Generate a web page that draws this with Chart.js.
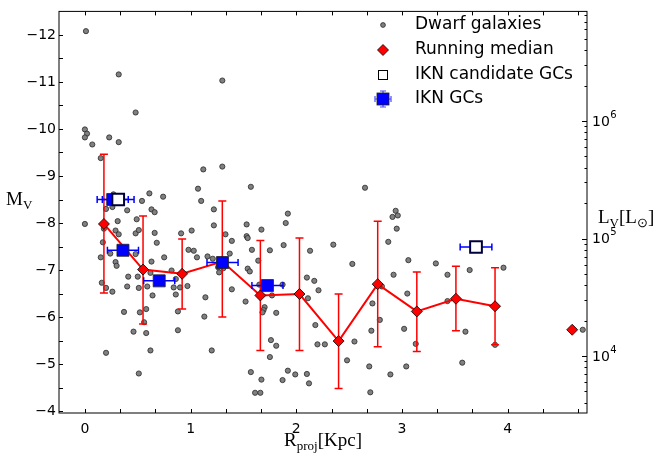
<!DOCTYPE html>
<html>
<head>
<meta charset="utf-8">
<script src="https://cdn.jsdelivr.net/npm/chart.js"></script>
<style>html,body{margin:0;padding:0;background:#fff}canvas{display:block}</style>
</head>
<body>
<canvas id="c" width="655" height="463"></canvas>
<script>
/* dwarf galaxies: projected radius (kpc) and absolute magnitude */
const dwarfR=[0.01,0.32,1.30,0.48,0.00,0.02,0.00,0.23,0.32,0.07,0.15,1.12,1.30,1.07,1.57,0.61,0.74,0.54,1.10,0.27,0.20,0.26,0.40,0.63,0.66,1.22,1.92,2.65,2.94,
  0.00,0.18,0.31,0.49,0.29,0.32,0.48,0.51,0.66,0.68,0.91,1.01,1.22,1.33,1.39,1.53,1.53,1.54,1.67,1.90,1.88,1.58,1.75,2.13,2.35,
  0.17,0.15,0.24,0.29,0.30,0.48,0.63,0.75,0.98,1.03,1.06,1.16,1.21,1.37,1.26,1.31,1.27,1.54,1.56,1.64,0.82,0.41,0.50,0.62,0.86,
  0.16,0.20,0.26,0.40,0.51,0.59,0.64,0.84,0.90,0.97,0.86,1.14,1.39,1.52,1.65,1.77,1.87,2.10,2.17,2.21,2.11,2.53,
  0.37,0.52,0.58,0.88,1.13,1.70,1.69,1.68,1.81,0.56,0.46,0.58,0.88,2.18,0.62,0.20,1.20,1.76,1.81,1.75,2.20,2.27,2.55,2.48,
  0.51,1.57,1.67,1.61,1.66,1.92,1.87,1.99,2.10,2.12,
  2.91,2.96,2.95,2.87,3.06,3.32,3.43,3.64,3.96,2.92,2.81,3.05,2.72,3.43,2.79,3.02,2.71,3.60,3.13,3.88,2.69,3.04,3.57,2.89,2.70,4.71];
const dwarfMV=[-12.08,-11.16,-11.03,-10.35,-9.99,-9.90,-9.82,-9.82,-9.72,-9.67,-9.38,-9.14,-9.20,-8.73,-8.77,-8.63,-8.56,-8.47,-8.47,-8.61,-8.30,-8.34,-8.27,-8.29,-8.23,-8.29,-8.20,-8.75,-8.26,
  -7.98,-7.88,-8.04,-8.08,-7.84,-7.76,-7.78,-7.85,-7.79,-7.58,-7.78,-7.84,-7.95,-7.76,-7.62,-7.97,-7.72,-7.68,-7.86,-8.00,-7.53,-7.43,-7.42,-7.41,-7.54,
  -7.59,-7.27,-7.35,-7.17,-7.09,-7.34,-7.18,-7.27,-7.43,-7.41,-7.27,-7.29,-7.24,-7.35,-7.06,-7.04,-6.95,-7.03,-6.97,-7.20,-6.99,-6.86,-6.86,-6.94,-6.81,
  -6.73,-6.62,-6.54,-6.65,-6.62,-6.65,-6.46,-6.63,-6.63,-6.66,-6.48,-6.42,-6.59,-6.33,-6.69,-6.46,-6.69,-6.84,-6.77,-6.57,-6.40,-7.13,
  -6.11,-6.10,-6.17,-6.12,-6.01,-6.21,-6.15,-6.10,-6.09,-5.89,-5.69,-5.66,-5.72,-5.83,-5.29,-5.24,-5.29,-5.51,-5.39,-5.15,-5.42,-5.42,-5.48,-5.08,
  -4.80,-4.83,-4.67,-4.39,-4.39,-4.86,-4.66,-4.78,-4.79,-4.59,
  -8.13,-8.16,-7.88,-7.60,-7.21,-7.14,-6.90,-7.00,-7.05,-6.90,-6.65,-6.50,-6.29,-6.34,-5.94,-5.75,-5.71,-5.69,-5.43,-5.41,-4.95,-4.95,-5.03,-4.78,-4.40,-5.73];

/* running median with its spread */
const medR=[0.18,0.55,0.92,1.30,1.66,2.03,2.40,2.77,3.14,3.51,3.88];
const medMV=[-7.98,-7.01,-6.92,-7.18,-6.46,-6.49,-5.49,-6.70,-6.12,-6.39,-6.23];
const medTop=[-9.46,-8.15,-7.66,-8.47,-7.63,-7.68,-6.49,-8.04,-6.96,-7.08,-7.05];
const medBot=[-6.51,-5.85,-6.17,-6.00,-5.29,-5.29,-4.48,-5.37,-5.27,-5.71,-5.41];
const outR=[4.61];
const outMV=[-5.73];

/* IKN globular clusters */
const gcR=[0.263,0.36,0.703,1.302,1.727];
const gcMV=[-8.50,-7.42,-6.77,-7.16,-6.67];
const gcErr=[0.147,0.147,0.147,0.147,0.147];
const candR=[0.315,3.70];
const candMV=[-8.50,-7.49];
const candErr=[0.15,0.15];

const xTicks=[0,1,2,3,4];
const lumMajor=[1e4,1e5,1e6];
const lumExp=['4','5','6'];
const MSUN=4.83;
const lumToMag=L=>MSUN-2.5*Math.log10(L);

const pts=(xs,ys)=>xs.map((v,i)=>({x:v,y:ys[i]}));

Chart.defaults.font.family="'DejaVu Sans'";
Chart.defaults.font.size=14;
Chart.defaults.color='#000';

/* error bars, drawn just under their own dataset */
const errBars={
  id:'errBars',
  beforeDatasetDraw(chart,args){
    const ctx=chart.ctx,xs=chart.scales.x,ys=chart.scales.y;
    const lbl=chart.data.datasets[args.index].label;
    ctx.save();
    ctx.lineWidth=1.5;
    if(lbl==='Running median'){
      ctx.strokeStyle='#ff0000';
      medR.forEach((r,i)=>{
        const px=xs.getPixelForValue(r),a=ys.getPixelForValue(medTop[i]),b=ys.getPixelForValue(medBot[i]);
        ctx.beginPath();
        ctx.moveTo(px,a);ctx.lineTo(px,b);
        ctx.moveTo(px-4,a);ctx.lineTo(px+4,a);
        ctx.moveTo(px-4,b);ctx.lineTo(px+4,b);
        ctx.stroke();
      });
    }
    const xe=(R,M,E)=>{
      ctx.strokeStyle='#0000ff';
      R.forEach((r,i)=>{
        const py=ys.getPixelForValue(M[i]),a=xs.getPixelForValue(r-E[i]),b=xs.getPixelForValue(r+E[i]);
        ctx.beginPath();
        ctx.moveTo(a,py);ctx.lineTo(b,py);
        ctx.moveTo(a,py-3.5);ctx.lineTo(a,py+3.5);
        ctx.moveTo(b,py-3.5);ctx.lineTo(b,py+3.5);
        ctx.stroke();
      });
    };
    if(lbl==='IKN GCs')xe(gcR,gcMV,gcErr);
    if(lbl==='IKN candidate GCs')xe(candR,candMV,candErr);
    ctx.restore();
  }
};

/* frame, inward ticks, luminosity labels, axis titles and legend */
const decor={
  id:'decor',
  afterDraw(chart){
    const ctx=chart.ctx,a=chart.chartArea,xs=chart.scales.x,ys=chart.scales.y;
    ctx.save();
    ctx.strokeStyle='#000';ctx.lineWidth=1;
    ctx.strokeRect(a.left,a.top,a.right-a.left,a.bottom-a.top);
    ctx.beginPath();
    for(let k=0;k<=14;k++){
      const px=Math.round(xs.getPixelForValue(k/3))+0.5;
      ctx.moveTo(px,a.bottom);ctx.lineTo(px,a.bottom-4);
      ctx.moveTo(px,a.top);ctx.lineTo(px,a.top+4);
    }
    for(let m=-12;m<=-4;m+=0.5){
      const py=Math.round(ys.getPixelForValue(m))+0.5;
      ctx.moveTo(a.left,py);ctx.lineTo(a.left+4,py);
    }
    for(let n=3;n<=6;n++){
      for(let k=1;k<=9;k++){
        const mag=lumToMag(k*Math.pow(10,n));
        if(mag>ys.max||mag<ys.min)continue;
        const py=Math.round(ys.getPixelForValue(mag))+0.5;
        const len=k===1?5:2.5;
        ctx.moveTo(a.right,py);ctx.lineTo(a.right-len,py);
      }
    }
    ctx.stroke();

    /* right axis labels 10^n */
    ctx.fillStyle='#000';ctx.textAlign='left';ctx.textBaseline='middle';
    lumMajor.forEach((L,i)=>{
      const py=ys.getPixelForValue(lumToMag(L));
      ctx.font="14px 'DejaVu Sans'";
      ctx.fillText('10',a.right+5,py+1);
      const w=ctx.measureText('10').width;
      ctx.font="10px 'DejaVu Sans'";
      ctx.fillText(lumExp[i],a.right+5+w+0.5,py-6);
    });

    /* axis titles */
    const main="19px 'Liberation Serif'",sub="13px 'Liberation Serif'";
    const parts=(list)=>{
      let w=0;
      list.forEach(([t,s])=>{ctx.font=s?sub:main;w+=ctx.measureText(t).width;});
      return w;
    };
    const put=(list,x,y)=>{
      ctx.fillStyle='#000';ctx.textBaseline='alphabetic';ctx.textAlign='left';
      list.forEach(([t,s])=>{ctx.font=s?sub:main;ctx.fillText(t,x,y+(s?4:0));x+=ctx.measureText(t).width;});
    };
    put([['M',0],['V',1]],6,205);
    const xl=[['R',0],['proj',1],['[Kpc]',0]];
    put(xl,(a.left+a.right)/2-parts(xl)/2,446);
    put([['L',0],['V',1],['[L',0],['\u2299',1],[']',0]],598,223);

    /* legend */
    const rows=['Dwarf galaxies','Running median','IKN candidate GCs','IKN GCs'];
    const lx=383,ly=[25,50,75,99];
    ctx.font="17px 'DejaVu Sans'";ctx.textBaseline='middle';ctx.fillStyle='#000';
    rows.forEach((t,i)=>ctx.fillText(t,415,ly[i]));
    ctx.lineWidth=0.8;
    ctx.beginPath();ctx.arc(lx,ly[0],2.4,0,Math.PI*2);
    ctx.fillStyle='#808080';ctx.fill();ctx.strokeStyle='#2a2a2a';ctx.stroke();
    ctx.beginPath();ctx.moveTo(lx-5.5,ly[1]);ctx.lineTo(lx,ly[1]-5.5);ctx.lineTo(lx+5.5,ly[1]);ctx.lineTo(lx,ly[1]+5.5);ctx.closePath();
    ctx.fillStyle='#ff0000';ctx.fill();ctx.strokeStyle='#000';ctx.stroke();
    ctx.lineWidth=1;ctx.strokeStyle='#000';ctx.fillStyle='#fff';
    ctx.fillRect(lx-4.5,ly[2]-4.5,9,9);ctx.strokeRect(lx-4.5,ly[2]-4.5,9,9);
    ctx.strokeStyle='#4a4aff';ctx.lineWidth=1.2;
    ctx.beginPath();
    ctx.moveTo(lx-8,ly[3]);ctx.lineTo(lx+8,ly[3]);ctx.moveTo(lx-8,ly[3]-3);ctx.lineTo(lx-8,ly[3]+3);ctx.moveTo(lx+8,ly[3]-3);ctx.lineTo(lx+8,ly[3]+3);
    ctx.moveTo(lx,ly[3]-8);ctx.lineTo(lx,ly[3]+8);ctx.moveTo(lx-3,ly[3]-8);ctx.lineTo(lx+3,ly[3]-8);ctx.moveTo(lx-3,ly[3]+8);ctx.lineTo(lx+3,ly[3]+8);
    ctx.stroke();
    ctx.fillStyle='#0000ff';ctx.fillRect(lx-6,ly[3]-6,12,12);
    ctx.strokeStyle='#222';ctx.lineWidth=0.8;ctx.strokeRect(lx-6,ly[3]-6,12,12);
    ctx.restore();
  }
};

const magRange={min:-12.5,max:-3.96};

new Chart(document.getElementById('c'),{
  type:'scatter',
  data:{datasets:[
    {label:'Dwarf galaxies',data:pts(dwarfR,dwarfMV),order:5,
      pointRadius:2.6,pointBackgroundColor:'#808080',pointBorderColor:'#2a2a2a',pointBorderWidth:0.8},
    {label:'Running median',data:pts(medR,medMV),order:4,showLine:true,
      borderColor:'#ff0000',borderWidth:2,pointStyle:'rectRot',pointRadius:5.5,
      pointBackgroundColor:'#ff0000',pointBorderColor:'#000',pointBorderWidth:0.8},
    {label:'IKN candidate GCs',data:pts(candR,candMV),order:1,
      pointStyle:'rect',pointRadius:8.3,pointBackgroundColor:'#fff',pointBorderColor:'#00003c',pointBorderWidth:2},
    {label:'IKN GCs',data:pts(gcR,gcMV),order:2,
      pointStyle:'rect',pointRadius:8.5,pointBackgroundColor:'#0000ff',pointBorderColor:'#222',pointBorderWidth:0.8},
    {label:'outer median',data:pts(outR,outMV),order:3,
      pointStyle:'rectRot',pointRadius:5.5,pointBackgroundColor:'#ff0000',pointBorderColor:'#000',pointBorderWidth:0.8}
  ]},
  plugins:[errBars,decor],
  options:{
    responsive:false,animation:false,events:[],
    layout:{padding:{top:4,left:0,right:0,bottom:0}},
    plugins:{legend:{display:false},tooltip:{enabled:false}},
    scales:{
      x:{type:'linear',min:-0.245,max:4.75,
        afterBuildTicks:s=>{s.ticks=xTicks.map(v=>({value:v}));},
        grid:{display:false,drawTicks:false},border:{display:false},
        ticks:{padding:8,autoSkip:false,maxRotation:0},
        afterFit:s=>{s.height=50;}},
      y:{type:'linear',reverse:true,min:magRange.min,max:magRange.max,
        ticks:{stepSize:1,includeBounds:false,padding:3,callback:v=>(v<0?'\u2212':'')+Math.abs(v)},
        grid:{display:false,drawTicks:false},border:{display:false},
        afterFit:s=>{s.width=59;}},
      y1:{type:'linear',position:'right',reverse:true,min:magRange.min,max:magRange.max,
        ticks:{display:false},
        grid:{display:false,drawTicks:false},border:{display:false},
        afterFit:s=>{s.width=68;}}
    }
  }
});
</script>
</body>
</html>
